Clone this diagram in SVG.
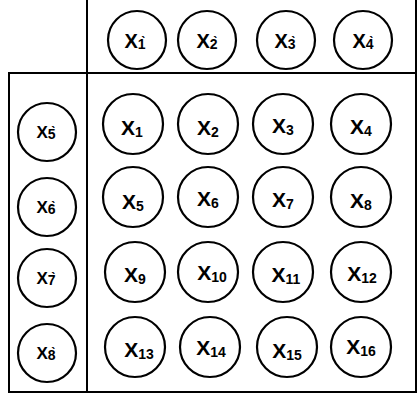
<svg xmlns="http://www.w3.org/2000/svg" width="418" height="394" viewBox="0 0 418 394">
<style>
.n circle{fill:#fff;stroke:#000;stroke-width:2.2}
.n text{font-family:"Liberation Sans",Arial,sans-serif;font-weight:bold;fill:#000;text-anchor:middle}
.m{font-size:21px}
.t{font-size:20px}
.l{font-size:17px}
.s{font-size:14px}
.frame line{stroke:#000;stroke-width:2}
</style>
<rect width="418" height="394" fill="#fff"/>
<g id="connectors" class="frame">
<line x1="87" y1="0" x2="87" y2="393"/>
<line x1="416" y1="0" x2="416" y2="393"/>
<line x1="9" y1="73" x2="417" y2="73"/>
<line x1="9" y1="392" x2="417" y2="392"/>
<line x1="9" y1="72" x2="9" y2="393"/>
</g>
<g id="x1p" class="n"><circle cx="137" cy="40" r="29"/><text class="t" x="135" y="48">X<tspan class="s" dy="1">1̀</tspan></text></g>
<g id="x2p" class="n"><circle cx="207" cy="40" r="29"/><text class="t" x="207" y="48">X<tspan class="s" dy="1">2̀</tspan></text></g>
<g id="x3p" class="n"><circle cx="286" cy="40" r="29"/><text class="t" x="285" y="48">X<tspan class="s" dy="1">3̀</tspan></text></g>
<g id="x4p" class="n"><circle cx="363" cy="40" r="29"/><text class="t" x="363" y="48">X<tspan class="s" dy="1">4̀</tspan></text></g>
<g id="x5p" class="n"><circle cx="47" cy="132" r="29"/><text class="l" x="46" y="138">X<tspan class="s" dy="1">5̀</tspan></text></g>
<g id="x6p" class="n"><circle cx="47" cy="207" r="29"/><text class="l" x="46" y="213">X<tspan class="s" dy="1">6̀</tspan></text></g>
<g id="x7p" class="n"><circle cx="47" cy="278" r="29"/><text class="l" x="46" y="284">X<tspan class="s" dy="1">7̀</tspan></text></g>
<g id="x8p" class="n"><circle cx="47" cy="353" r="29"/><text class="l" x="46" y="359">X<tspan class="s" dy="1">8̀</tspan></text></g>
<g id="x1" class="n"><circle cx="133" cy="124" r="30"/><text class="m" x="132" y="135">X<tspan class="s" dy="2">1</tspan></text></g>
<g id="x2" class="n"><circle cx="208" cy="124" r="30"/><text class="m" x="208" y="135">X<tspan class="s" dy="2">2</tspan></text></g>
<g id="x3" class="n"><circle cx="283" cy="124" r="30"/><text class="m" x="283" y="133">X<tspan class="s" dy="2">3</tspan></text></g>
<g id="x4" class="n"><circle cx="361" cy="124" r="30"/><text class="m" x="361" y="134">X<tspan class="s" dy="2">4</tspan></text></g>
<g id="x5" class="n"><circle cx="133" cy="197" r="30"/><text class="m" x="133" y="209">X<tspan class="s" dy="2">5</tspan></text></g>
<g id="x6" class="n"><circle cx="208" cy="197" r="30"/><text class="m" x="208" y="206">X<tspan class="s" dy="2">6</tspan></text></g>
<g id="x7" class="n"><circle cx="283" cy="197" r="30"/><text class="m" x="283" y="207">X<tspan class="s" dy="2">7</tspan></text></g>
<g id="x8" class="n"><circle cx="361" cy="197" r="30"/><text class="m" x="361" y="208">X<tspan class="s" dy="2">8</tspan></text></g>
<g id="x9" class="n"><circle cx="135" cy="272" r="30"/><text class="m" x="135" y="282">X<tspan class="s" dy="2">9</tspan></text></g>
<g id="x10" class="n"><circle cx="208" cy="272" r="30"/><text class="m" x="212" y="280">X<tspan class="s" dy="2">10</tspan></text></g>
<g id="x11" class="n"><circle cx="283" cy="272" r="30"/><text class="m" x="286" y="282">X<tspan class="s" dy="2">11</tspan></text></g>
<g id="x12" class="n"><circle cx="361" cy="272" r="30"/><text class="m" x="362" y="281">X<tspan class="s" dy="2">12</tspan></text></g>
<g id="x13" class="n"><circle cx="135" cy="347" r="30"/><text class="m" x="139" y="357">X<tspan class="s" dy="2">13</tspan></text></g>
<g id="x14" class="n"><circle cx="210" cy="347" r="30"/><text class="m" x="211" y="355">X<tspan class="s" dy="2">14</tspan></text></g>
<g id="x15" class="n"><circle cx="287" cy="347" r="30"/><text class="m" x="287" y="358">X<tspan class="s" dy="2">15</tspan></text></g>
<g id="x16" class="n"><circle cx="361" cy="347" r="30"/><text class="m" x="361" y="354">X<tspan class="s" dy="2">16</tspan></text></g>
</svg>
